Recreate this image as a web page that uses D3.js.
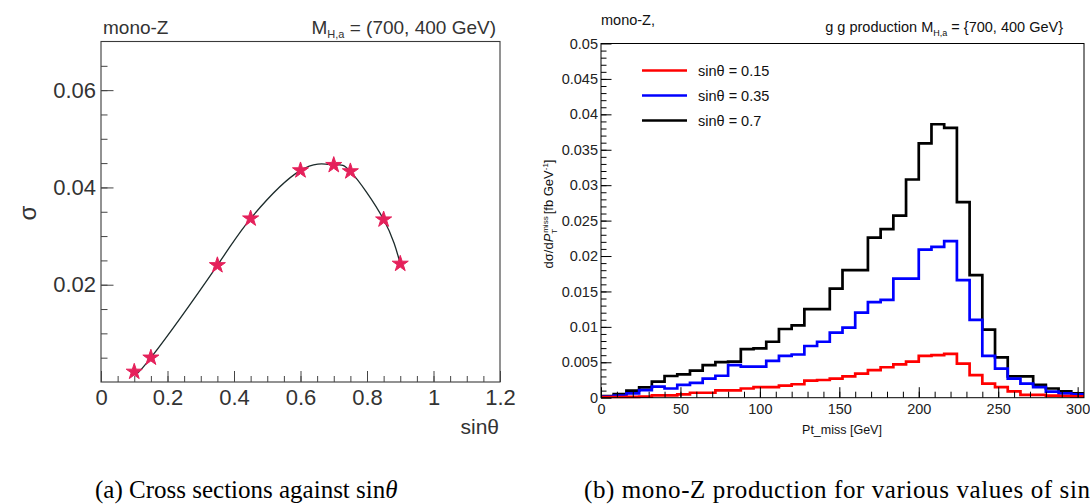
<!DOCTYPE html>
<html>
<head>
<meta charset="utf-8">
<script src="https://cdn.jsdelivr.net/npm/d3@7"></script>
<style>
  html, body { margin: 0; padding: 0; background: #fff; }
  svg { display: block; }
  text { font-family: "Liberation Sans", Arial, Helvetica, sans-serif; }
  .cap { font-family: "Liberation Serif", "Times New Roman", serif; }
</style>
</head>
<body>
<svg id="chart" width="1090" height="504"></svg>
<script>
// ---------------- data: panel (a) ----------------
const sinTheta = [0.1, 0.15, 0.35, 0.45, 0.6, 0.7, 0.75, 0.85, 0.9];
const sigma    = [0.0021, 0.0050, 0.0240, 0.0336, 0.0435, 0.0446, 0.0433, 0.0334, 0.0243];
const leftXTicks = [0, 0.2, 0.4, 0.6, 0.8, 1, 1.2];
const leftXTickLabels = ["0", "0.2", "0.4", "0.6", "0.8", "1", "1.2"];
const leftYTicks = [0.02, 0.04, 0.06];
const leftYTickLabels = ["0.02", "0.04", "0.06"];

// ---------------- data: panel (b) ----------------
const binLow = [0, 8, 16, 24, 32, 40, 48, 56, 64, 72, 80, 88, 96, 104, 112, 120, 128, 136, 144,
                152, 160, 168, 176, 184, 192, 200, 208, 216, 224, 232, 240, 248, 256, 264, 272, 280, 288, 296];
const binHighEnd = 304;
const histSin070 = [0.00024, 0.00052, 0.00099, 0.00146, 0.00226, 0.00306, 0.00329, 0.00381, 0.00461, 0.00503,
                    0.00510, 0.00687, 0.00696, 0.0079, 0.0097, 0.0102, 0.0125, 0.0125, 0.0154, 0.0180,
                    0.0180, 0.0226, 0.0238, 0.0257, 0.0308, 0.0359, 0.0386, 0.0381, 0.0276, 0.0173,
                    0.0096, 0.0057, 0.0030, 0.0030, 0.0018, 0.0013, 0.0009, 0.0006];
const histSin035 = [0.00014, 0.00028, 0.0006, 0.00108, 0.00155, 0.0013, 0.0018, 0.0021, 0.0027, 0.0031,
                    0.0046, 0.0044, 0.0044, 0.0052, 0.0059, 0.0061, 0.0073, 0.0079, 0.0092, 0.0099,
                    0.0120, 0.0135, 0.0138, 0.0168, 0.0168, 0.0209, 0.0213, 0.0221, 0.0166, 0.0110,
                    0.0059, 0.0041, 0.0027, 0.0020, 0.0015, 0.00085, 0.0006, 0.00047];
const histSin015 = [0.0001, 0.0001, 0.00012, 0.00015, 0.00033, 0.00033, 0.00047, 0.0007, 0.0007, 0.00104,
                    0.00104, 0.0013, 0.0015, 0.0015, 0.0017, 0.0019, 0.0024, 0.0025, 0.0027, 0.0030,
                    0.0034, 0.0039, 0.0043, 0.0047, 0.0051, 0.0059, 0.0060, 0.0062, 0.0048, 0.0032,
                    0.0020, 0.0015, 0.0009, 0.0004, 0.0004, 0.0003, 0.00024, 0.0002];
const legendLabels = ["sin\u03B8 = 0.15", "sin\u03B8 = 0.35", "sin\u03B8 = 0.7"];
const legendColors = ["#ff0000", "#0000ff", "#000000"];
const rightXTicks = [0, 50, 100, 150, 200, 250, 300];
const rightXTickLabels = ["0", "50", "100", "150", "200", "250", "300"];
const rightYTicks = [0, 0.005, 0.01, 0.015, 0.02, 0.025, 0.03, 0.035, 0.04, 0.045, 0.05];
const rightYTickLabels = ["0", "0.005", "0.01", "0.015", "0.02", "0.025", "0.03", "0.035", "0.04", "0.045", "0.05"];

// ---------------- drawing ----------------
const svg = d3.select("#chart");

// ===== Panel (a) =====
const lx = d3.scaleLinear().domain([0, 1.2]).range([101, 500]);
const ly = d3.scaleLinear().domain([0, 0.07]).range([382, 41.5]);
const gA = svg.append("g");

// frame
gA.append("rect").attr("x", lx(0)).attr("y", ly(0.07))
  .attr("width", lx(1.2) - lx(0)).attr("height", ly(0) - ly(0.07))
  .attr("fill", "none").attr("stroke", "#3a3a3a").attr("stroke-width", 1.1);

// minor ticks
gA.append("g").attr("transform", `translate(0,${ly(0)})`)
  .call(d3.axisBottom(lx).tickValues(d3.range(0.05, 1.2, 0.05)).tickSizeInner(-6).tickSizeOuter(0).tickFormat(""))
  .call(g => g.select(".domain").remove())
  .selectAll("line").attr("stroke", "#444");
gA.append("g").attr("transform", `translate(${lx(0)},0)`)
  .call(d3.axisLeft(ly).tickValues(d3.range(0.005, 0.07, 0.005)).tickSizeInner(-6.5).tickSizeOuter(0).tickFormat(""))
  .call(g => g.select(".domain").remove())
  .selectAll("line").attr("stroke", "#444");

// major ticks + labels
const axA_x = gA.append("g").attr("transform", `translate(0,${ly(0)})`)
  .call(d3.axisBottom(lx).tickValues(leftXTicks).tickSizeInner(-11).tickSizeOuter(0).tickPadding(7)
        .tickFormat((d, i) => leftXTickLabels[i]));
axA_x.select(".domain").remove();
axA_x.selectAll("line").attr("stroke", "#444");
axA_x.selectAll("text").attr("font-size", 22).attr("fill", "#333")
  .attr("font-family", '"Liberation Sans", Arial, sans-serif');

const axA_y = gA.append("g").attr("transform", `translate(${lx(0)},0)`)
  .call(d3.axisLeft(ly).tickValues(leftYTicks).tickSizeInner(-12.5).tickSizeOuter(0).tickPadding(5)
        .tickFormat((d, i) => leftYTickLabels[i]));
axA_y.select(".domain").remove();
axA_y.selectAll("line").attr("stroke", "#444");
axA_y.selectAll("text").attr("font-size", 22).attr("fill", "#333")
  .attr("font-family", '"Liberation Sans", Arial, sans-serif');

// curve
const ptsA = sinTheta.map((s, i) => [s, sigma[i]]);
gA.append("path")
  .attr("d", d3.line().x(d => lx(d[0])).y(d => ly(d[1])).curve(d3.curveNatural)(ptsA))
  .attr("fill", "none").attr("stroke", "#1c2b2b").attr("stroke-width", 1.3);

// markers
gA.selectAll(".mk").data(ptsA).enter().append("path")
  .attr("transform", d => `translate(${lx(d[0])},${ly(d[1])})`)
  .attr("d", d3.symbol().type(d3.symbolStar).size(80))
  .attr("fill", "#e5215b").attr("stroke", "#e5215b").attr("stroke-width", 1);

// texts
gA.append("text").attr("x", 103).attr("y", 34).attr("font-size", 19).attr("fill", "#333").text("mono-Z");
const tA = gA.append("text").attr("x", 496).attr("y", 34).attr("font-size", 19).attr("fill", "#333")
  .attr("text-anchor", "end");
tA.append("tspan").text("M");
tA.append("tspan").attr("font-size", 11).attr("dy", 4).text("H,a");
tA.append("tspan").attr("dy", -4).text(" = (700, 400 GeV)");
gA.append("text").attr("x", 499).attr("y", 434).attr("font-size", 21).attr("fill", "#333")
  .attr("text-anchor", "end").text("sin\u03B8");
gA.append("text").attr("transform", "translate(36,213) rotate(-90)").attr("font-size", 24)
  .attr("fill", "#333").attr("text-anchor", "middle").text("\u03C3");

// ===== Panel (b) =====
const rx = d3.scaleLinear().domain([0, 304]).range([601, 1084]);
const ry = d3.scaleLinear().domain([0, 0.05]).range([397.7, 43.5]);
const gB = svg.append("g");

// histograms
const step = d3.line().x(d => rx(d[0])).y(d => ry(d[1])).curve(d3.curveStepAfter);
function histPts(vals) {
  const p = binLow.map((b, i) => [b, vals[i]]);
  p.push([binHighEnd, vals[vals.length - 1]]);
  return p;
}
const series = [
  { vals: histSin070, color: legendColors[2] },
  { vals: histSin035, color: legendColors[1] },
  { vals: histSin015, color: legendColors[0] }
];
series.forEach(s => {
  gB.append("path").attr("d", step(histPts(s.vals)))
    .attr("fill", "none").attr("stroke", s.color).attr("stroke-width", 2.7)
    .attr("stroke-linejoin", "miter");
});

// frame
gB.append("rect").attr("x", rx(0)).attr("y", ry(0.05))
  .attr("width", rx(304) - rx(0)).attr("height", ry(0) - ry(0.05))
  .attr("fill", "none").attr("stroke", "#000").attr("stroke-width", 1);

// minor ticks
gB.append("g").attr("transform", `translate(0,${ry(0)})`)
  .call(d3.axisBottom(rx).tickValues(d3.range(10, 304, 10)).tickSizeInner(-6).tickSizeOuter(0).tickFormat(""))
  .call(g => g.select(".domain").remove());
gB.append("g").attr("transform", `translate(${rx(0)},0)`)
  .call(d3.axisLeft(ry).tickValues(d3.range(0.001, 0.05, 0.001)).tickSizeInner(-5.5).tickSizeOuter(0).tickFormat(""))
  .call(g => g.select(".domain").remove());

const axB_x = gB.append("g").attr("transform", `translate(0,${ry(0)})`)
  .call(d3.axisBottom(rx).tickValues(rightXTicks).tickSizeInner(-10.5).tickSizeOuter(0).tickPadding(6)
        .tickFormat((d, i) => rightXTickLabels[i]));
axB_x.select(".domain").remove();
axB_x.selectAll("text").attr("font-size", 14.5).attr("fill", "#222")
  .attr("font-family", '"Liberation Sans", Arial, sans-serif');

const axB_y = gB.append("g").attr("transform", `translate(${rx(0)},0)`)
  .call(d3.axisLeft(ry).tickValues(rightYTicks).tickSizeInner(-10.5).tickSizeOuter(0).tickPadding(3)
        .tickFormat((d, i) => rightYTickLabels[i]));
axB_y.select(".domain").remove();
axB_y.selectAll("text").attr("font-size", 14.5).attr("fill", "#222")
  .attr("font-family", '"Liberation Sans", Arial, sans-serif');

// legend
const leg = gB.append("g");
legendLabels.forEach((lab, i) => {
  const yy = 70.5 + i * 25;
  leg.append("line").attr("x1", 642).attr("x2", 687).attr("y1", yy).attr("y2", yy)
    .attr("stroke", legendColors[i]).attr("stroke-width", 2.7);
  leg.append("text").attr("x", 698).attr("y", yy).attr("dy", "0.36em").attr("font-size", 14.5)
    .attr("fill", "#111").text(lab);
});

// titles
gB.append("text").attr("x", 601).attr("y", 25).attr("font-size", 14.5).attr("fill", "#111").text("mono-Z,");
const tB = gB.append("text").attr("x", 1063).attr("y", 32).attr("font-size", 14.5).attr("fill", "#111")
  .attr("text-anchor", "end");
tB.append("tspan").text("g g production  M");
tB.append("tspan").attr("font-size", 9).attr("dy", 3.5).text("H,a");
tB.append("tspan").attr("dy", -3.5).text(" = {700, 400 GeV}");

gB.append("text").attr("x", 842).attr("y", 434).attr("font-size", 12.5).attr("fill", "#111")
  .attr("text-anchor", "middle").text("Pt_miss [GeV]");

const yt = gB.append("text").attr("transform", "translate(553,214) rotate(-90)")
  .attr("font-size", 13).attr("fill", "#111").attr("text-anchor", "middle");
yt.append("tspan").text("d\u03C3/d");
yt.append("tspan").attr("font-style", "italic").text("P");
yt.append("tspan").attr("font-size", 8).attr("dy", 4).text("T");
yt.append("tspan").attr("font-size", 8).attr("dx", -4).attr("dy", -9).text("miss");
yt.append("tspan").attr("dy", 5).attr("dx", 2).text("[fb GeV");
yt.append("tspan").attr("font-size", 8).attr("dy", -5).text("-1");
yt.append("tspan").attr("dy", 5).text("]");

// ===== captions =====
const c1 = svg.append("text").attr("class", "cap").attr("x", 95).attr("y", 498).attr("font-size", 25).attr("fill", "#000");
c1.append("tspan").text("(a) Cross sections against sin");
c1.append("tspan").attr("font-style", "italic").text("\u03B8");
const c2 = svg.append("text").attr("class", "cap").attr("x", 584).attr("y", 498).attr("font-size", 25)
  .attr("letter-spacing", 0.6).attr("fill", "#000");
c2.append("tspan").text("(b) mono-Z production for various values of sin");
c2.append("tspan").attr("font-style", "italic").text("\u03B8");
</script>
</body>
</html>
